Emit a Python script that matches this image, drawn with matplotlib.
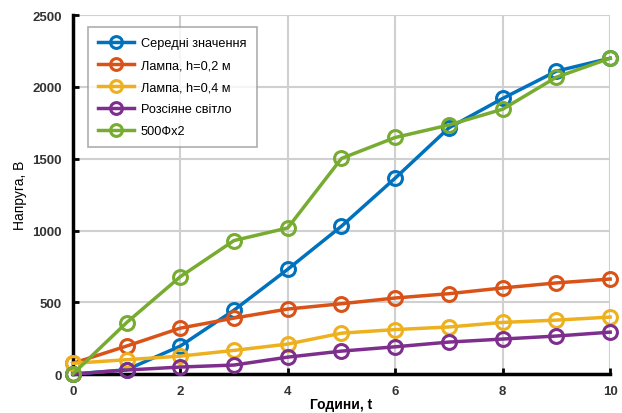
import numpy as np
import matplotlib.pyplot as plt

plt.rcParams['font.family'] = ['Liberation Sans', 'DejaVu Sans']

# Години
t = np.arange(0, 11)

# Напруга для кожної серії, В
avg = [0, 30, 195, 445, 730, 1030, 1365, 1715, 1920, 2110, 2200]
lamp_02 = [75, 195, 320, 390, 453, 490, 530, 560, 600, 635, 662]
lamp_04 = [75, 100, 125, 165, 209, 285, 310, 328, 360, 376, 397]
diffuse = [0, 28, 49, 63, 118, 160, 190, 223, 244, 265, 292]
x500 = [0, 358, 678, 930, 1018, 1502, 1648, 1735, 1845, 2068, 2200]

series = [
    (avg, '#0072BD', 'Середні значення'),
    (lamp_02, '#D95319', 'Лампа, h=0,2 м'),
    (lamp_04, '#EDB120', 'Лампа, h=0,4 м'),
    (diffuse, '#7E2F8E', 'Розсіяне світло'),
    (x500, '#77AC30', '500Фх2'),
]

fig = plt.figure(figsize=(6.22, 4.14), dpi=100)
ax = fig.add_axes([0.117, 0.094, 0.864, 0.867])

for vals, col, name in series:
    ax.plot(t, vals, '-o', color=col, lw=2.5, ms=10, mfc='none', mew=2.2,
            label=name, clip_on=False, zorder=3)

ax.set_xlim(0, 10)
ax.set_ylim(0, 2500)
ax.set_xticks(range(0, 11, 2))
ax.set_yticks(range(0, 2501, 500))
ax.grid(True, color='#d0d0d0', lw=1.5)
ax.set_axisbelow(True)

for s in ['top', 'right']:
    ax.spines[s].set_visible(False)
for s in ['left', 'bottom']:
    ax.spines[s].set_linewidth(2.5)
    ax.spines[s].set_color('black')

ax.tick_params(direction='in', length=4, width=2, labelsize=9.5)
ax.tick_params(axis='x', pad=8)
ax.tick_params(axis='y', pad=8)
for lab in ax.get_xticklabels() + ax.get_yticklabels():
    lab.set_fontweight('bold')
    lab.set_color('#333333')

ax.set_xlabel('Години, t', fontsize=10, fontweight='bold', labelpad=0)
ax.set_ylabel('Напруга, В', fontsize=10, labelpad=4)

leg = ax.legend(loc='upper left', bbox_to_anchor=(0.028, 0.967), borderaxespad=0,
                fontsize=9.2, frameon=True, fancybox=False, edgecolor='#999999',
                handlelength=2.8, handletextpad=0.55, borderpad=0.8,
                labelspacing=0.78, markerscale=0.85)
leg.get_frame().set_linewidth(1.2)

fig.savefig('out.png', dpi=100)
